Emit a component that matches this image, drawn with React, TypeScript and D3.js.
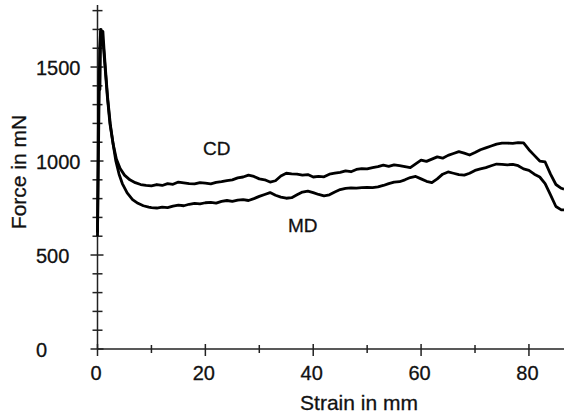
import React from "react";
import * as d3 from "d3";

const W = 564;
const H = 417;

// CD curve (upper)
const cdStrain = [0, 0.15, 0.3, 0.45, 0.6, 0.75, 0.9, 1.1, 1.4, 1.8, 2.3, 2.9, 3.5, 4.2, 5, 6, 7, 8, 9, 10, 11, 12, 13, 14, 15, 16, 17, 18, 19, 20, 21, 22, 23, 24, 25, 26, 27, 28, 29, 30, 31, 32, 33, 34, 35, 36, 37, 38, 39, 40, 41, 42, 43, 44, 45, 46, 47, 48, 49, 50, 51, 52, 53, 54, 55, 56, 57, 58, 59, 60, 61, 62, 63, 64, 65, 66, 67, 68, 69, 70, 71, 72, 73, 74, 75, 76, 77, 78, 79, 80, 81, 82, 83, 84, 85, 86, 86.5];
const cdForce = [600, 1150, 1480, 1380, 1690, 1685, 1660, 1610, 1500, 1350, 1200, 1090, 1010, 960, 925, 900, 885, 875, 870, 868, 875, 870, 880, 876, 888, 884, 880, 878, 885, 882, 878, 886, 890, 896, 900, 910, 915, 925, 918, 905, 900, 888, 895, 920, 935, 932, 930, 925, 928, 915, 918, 916, 930, 935, 940, 948, 943, 955, 960, 958, 965, 970, 978, 972, 980, 975, 970, 965, 985, 1005, 998, 1010, 1022, 1015, 1030, 1040, 1050, 1042, 1032, 1045, 1060, 1070, 1080, 1090, 1095, 1095, 1094, 1098, 1096, 1060, 1030, 1000, 995, 930, 875, 855, 850];

// MD curve (lower)
const mdStrain = [0, 0.2, 0.4, 0.6, 0.8, 1.0, 1.2, 1.5, 1.9, 2.4, 2.9, 3.4, 4, 4.6, 5.5, 6.5, 7.5, 8.5, 9.5, 10, 11, 12, 13, 14, 15, 16, 17, 18, 19, 20, 21, 22, 23, 24, 25, 26, 27, 28, 29, 30, 31, 32, 33, 34, 35, 36, 37, 38, 39, 40, 41, 42, 43, 44, 45, 46, 47, 48, 49, 50, 51, 52, 53, 54, 55, 56, 57, 58, 59, 60, 61, 62, 63, 64, 65, 66, 67, 68, 69, 70, 71, 72, 73, 74, 75, 76, 77, 78, 79, 80, 81, 82, 83, 84, 85, 86, 86.5];
const mdForce = [620, 1100, 1600, 1700, 1650, 1690, 1600, 1480, 1330, 1190, 1090, 1000, 930, 880, 830, 795, 775, 762, 755, 752, 750, 755, 752, 760, 765, 762, 770, 775, 772, 778, 780, 776, 785, 790, 785, 792, 795, 790, 800, 812, 822, 832, 818, 808, 802, 805, 820, 835, 840, 832, 822, 815, 820, 835, 848, 855, 857, 856, 858, 860, 858, 862, 870, 880, 888, 890, 900, 912, 918, 905, 892, 885, 905, 930, 942, 935, 928, 925, 935, 950, 958, 965, 975, 984, 982, 980, 982, 975, 958, 950, 930, 915, 880, 820, 758, 740, 740];

const xMajor = [0, 20, 40, 60, 80];
const xMinor = [10, 30, 50, 70];
const yMajor = [0, 500, 1000, 1500];
const yMinor = [100, 200, 300, 400, 600, 700, 800, 900, 1100, 1200, 1300, 1400, 1600, 1700, 1800];

const FONT = "'Liberation Sans', Arial, Helvetica, sans-serif";

export default function App() {
  const x = d3.scaleLinear().domain([0, 86.5]).range([97.5, 564]);
  const y = d3.scaleLinear().domain([0, 1830]).range([349, 5]);
  const line = d3
    .line<[number, number]>()
    .x((d) => x(d[0]))
    .y((d) => y(d[1]));
  const cd = cdStrain.map((s, i) => [s, cdForce[i]] as [number, number]);
  const md = mdStrain.map((s, i) => [s, mdForce[i]] as [number, number]);
  const x0 = x(0);
  const y0 = y(0);
  const axisColor = "#222";
  const txt = { fill: "#111", stroke: "#111", strokeWidth: 0.3 };

  return (
    <svg
      width={W}
      height={H}
      style={{ position: "absolute", left: 0, top: 0, background: "#fff" }}
      fontFamily={FONT}
    >
      <rect x={0} y={0} width={W} height={H} fill="#fff" />
      {/* axes */}
      <line x1={x0} x2={W} y1={y0} y2={y0} stroke={axisColor} strokeWidth={1.5} />
      <line x1={x0} x2={x0} y1={y0} y2={y(1830)} stroke={axisColor} strokeWidth={1.5} />
      {yMajor.map((v) => (
        <line key={"ym" + v} x1={x0 - 7} x2={x0 + 6} y1={y(v)} y2={y(v)} stroke={axisColor} strokeWidth={1.5} />
      ))}
      {yMinor.map((v) => (
        <line key={"yn" + v} x1={x0 - 5} x2={x0 + 5} y1={y(v)} y2={y(v)} stroke={axisColor} strokeWidth={1.5} />
      ))}
      {xMajor.map((v) => (
        <line key={"xm" + v} x1={x(v)} x2={x(v)} y1={y0 - 5} y2={y0 + 7} stroke={axisColor} strokeWidth={1.5} />
      ))}
      {xMinor.map((v) => (
        <line key={"xn" + v} x1={x(v)} x2={x(v)} y1={y0 - 4} y2={y0 + 4} stroke={axisColor} strokeWidth={1.5} />
      ))}
      {/* tick labels */}
      {yMajor.map((v) => (
        <text key={"yl" + v} x={36} y={y(v) + 7.5} fontSize={20} {...txt}>
          {v}
        </text>
      ))}
      {xMajor.map((v) => (
        <text key={"xl" + v} x={x(v) - 1.5} y={380} fontSize={20} textAnchor="middle" {...txt}>
          {v}
        </text>
      ))}
      {/* axis titles */}
      <text x={359} y={410} fontSize={21} textAnchor="middle" {...txt}>
        Strain in mm
      </text>
      <text
        transform={`translate(26, 172) rotate(-90)`}
        fontSize={21}
        textAnchor="middle"
        {...txt}
      >
        Force in mN
      </text>
      {/* curves */}
      <path d={line(cd) || ""} fill="none" stroke="#000" strokeWidth={2.8} strokeLinejoin="round" />
      <path d={line(md) || ""} fill="none" stroke="#000" strokeWidth={2.8} strokeLinejoin="round" />
      {/* series labels */}
      <text x={203} y={155} fontSize={19} {...txt}>
        CD
      </text>
      <text x={288} y={232} fontSize={19} {...txt}>
        MD
      </text>
    </svg>
  );
}
